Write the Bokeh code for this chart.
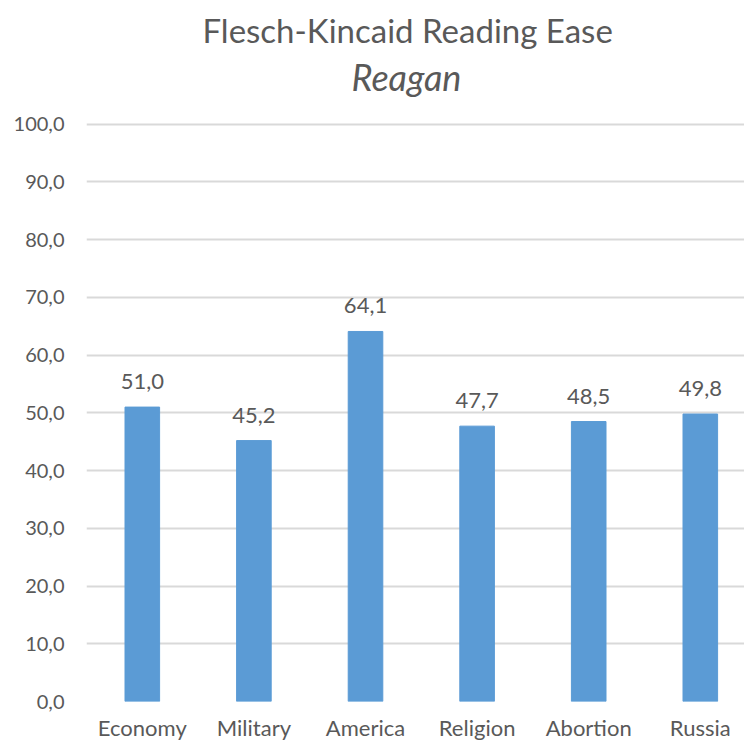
from bokeh.plotting import figure
from bokeh.models import Title, FixedTicker, ColumnDataSource, Range1d
from bokeh.core.properties import value
from bokeh.embed import file_html
from bokeh.resources import INLINE

categories = ["Economy", "Military", "America", "Religion", "Abortion", "Russia"]
scores = [51.0, 45.2, 64.1, 47.7, 48.5, 49.8]
y_ticks = [0, 10, 20, 30, 40, 50, 60, 70, 80, 90, 100]

def fmt(v):
    return f"{v:.1f}".replace(".", ",")

FONT = "Lato"
TXT = "#595959"

xs = list(range(len(categories)))
src = ColumnDataSource(dict(x=xs, y=scores, lab=[fmt(v) for v in scores]))

p = figure(frame_width=658, frame_height=579, output_backend="svg", toolbar_location=None,
           x_range=Range1d(-0.5, 5.396), y_range=Range1d(0, 100.3),
           min_border_left=86, min_border_right=0, min_border_bottom=40, min_border_top=122)
p.title = None
p.outline_line_color = None

p.vbar(x="x", top="y", width=0.31, source=src, color="#5B9BD5")
p.text(x="x", y="y", text="lab", source=src, text_align="center", text_baseline="bottom",
       y_offset=-18, text_font=value(FONT), text_font_size="22px", text_color=TXT)

p.add_layout(Title(text="Reagan", text_font=FONT, text_font_style="italic", text_font_size="36px",
                   text_color=TXT, align="left", standoff=47, offset=265), "above")
p.add_layout(Title(text="Flesch-Kincaid Reading Ease", text_font=FONT, text_font_style="normal",
                   text_font_size="33px", text_color=TXT, align="left", standoff=-40, offset=116), "above")

p.xaxis.ticker = FixedTicker(ticks=xs)
p.xaxis.major_label_overrides = {i: c for i, c in enumerate(categories)}
p.yaxis.ticker = FixedTicker(ticks=y_ticks)
p.yaxis.major_label_overrides = {t: fmt(t) for t in y_ticks}

for ax in (p.xaxis[0], p.yaxis[0]):
    ax.axis_line_color = None
    ax.major_tick_line_color = None
    ax.minor_tick_line_color = None
    ax.major_tick_out = 0
    ax.major_tick_in = 0
    ax.major_label_text_font = FONT
    ax.major_label_text_color = TXT
p.yaxis.major_label_text_font_size = "20px"
p.xaxis.major_label_text_font_size = "22px"
p.yaxis.major_label_standoff = 22
p.xaxis.major_label_standoff = 12

p.xgrid.grid_line_color = None
p.ygrid.grid_line_color = "#D9D9D9"
p.ygrid.grid_line_width = 2

open("out.html", "w").write(file_html(p, INLINE))
